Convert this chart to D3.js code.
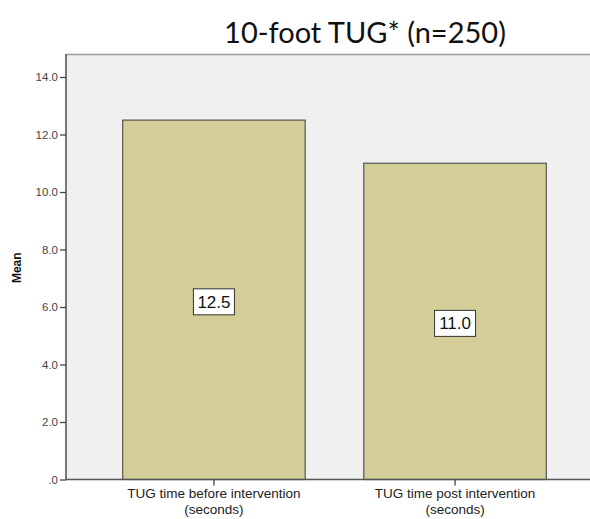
<!DOCTYPE html>
<html>
<head>
<meta charset="utf-8">
<script src="https://cdn.jsdelivr.net/npm/d3@7"></script>
<style>
  html, body { margin: 0; padding: 0; background: #fff; }
  svg { display: block; }
</style>
</head>
<body>
<svg id="chart" width="590" height="519"></svg>
<script>
const categories = [
  ["TUG time before intervention", "(seconds)"],
  ["TUG time post intervention", "(seconds)"]
];
const categoryKeys = ["before", "post"];
const meanValues = [12.5, 11.0];
const yTicks = [0, 2, 4, 6, 8, 10, 12, 14];
const titleText = "10-foot TUG* (n=250)";
const yAxisLabel = "Mean";

const svg = d3.select("#chart");
const W = 590, H = 519;
const plot = { left: 66, top: 54, right: 603, bottom: 479.5 };

const x = d3.scaleBand()
  .domain(categoryKeys)
  .range([plot.left, plot.right])
  .paddingInner(0.243)
  .paddingOuter(0.235);

const y = d3.scaleLinear()
  .domain([0, 14.8])
  .range([plot.bottom, plot.top]);

// Plot background
svg.append("rect")
  .attr("x", plot.left).attr("y", plot.top)
  .attr("width", plot.right - plot.left)
  .attr("height", plot.bottom - plot.top)
  .attr("fill", "#f0f0f0");

// Top frame line
svg.append("line")
  .attr("x1", plot.left).attr("x2", plot.right)
  .attr("y1", plot.top + 0.5).attr("y2", plot.top + 0.5)
  .attr("stroke", "#9a9a9a").attr("stroke-width", 1.5);

// Bars
svg.selectAll("rect.bar")
  .data(meanValues)
  .join("rect")
  .attr("class", "bar")
  .attr("x", (d, i) => x(categoryKeys[i]))
  .attr("y", d => y(d))
  .attr("width", x.bandwidth())
  .attr("height", d => y(0) - y(d))
  .attr("fill", "#d3ce98")
  .attr("stroke", "#555")
  .attr("stroke-width", 1.2);

// Y axis
const yAxis = d3.axisLeft(y)
  .tickValues(yTicks)
  .tickSize(6)
  .tickFormat(d => d === 0 ? ".0" : d3.format(".1f")(d));
const gy = svg.append("g")
  .attr("transform", `translate(${plot.left},0)`)
  .call(yAxis);
gy.select(".domain").attr("stroke", "#777").attr("stroke-width", 2)
  .attr("d", `M0,${plot.top}V${plot.bottom}`);
gy.selectAll(".tick line").attr("stroke", "#444").attr("stroke-width", 1.3);
gy.selectAll(".tick text")
  .attr("font-family", "Arial, 'Liberation Sans', sans-serif")
  .attr("font-size", 11.5)
  .attr("fill", "#444")
  .attr("x", -8);

// X axis
const xAxis = d3.axisBottom(x).tickSize(6).tickFormat("");
const gx = svg.append("g")
  .attr("transform", `translate(0,${plot.bottom})`)
  .call(xAxis);
gx.select(".domain").attr("stroke", "#555").attr("stroke-width", 1.5)
  .attr("d", `M${plot.left},0H${plot.right}`);
gx.selectAll(".tick line").attr("stroke", "#444").attr("stroke-width", 1.3);

// Category labels
categoryKeys.forEach((k, i) => {
  const t = svg.append("text")
    .attr("x", x(k) + x.bandwidth() / 2)
    .attr("y", 498)
    .attr("text-anchor", "middle")
    .attr("font-family", "Arial, 'Liberation Sans', sans-serif")
    .attr("font-size", 13.5)
    .attr("fill", "#222");
  categories[i].forEach((line, j) => {
    t.append("tspan")
      .attr("x", x(k) + x.bandwidth() / 2)
      .attr("dy", j === 0 ? 0 : 15.5)
      .text(line);
  });
});

// Value labels
meanValues.forEach((v, i) => {
  const cx = x(categoryKeys[i]) + x.bandwidth() / 2;
  const cy = (y(v) + y(0)) / 2 + 2;
  const g = svg.append("g");
  g.append("rect")
    .attr("x", cx - 20.5).attr("y", cy - 13)
    .attr("width", 41).attr("height", 26)
    .attr("fill", "#fff").attr("stroke", "#333").attr("stroke-width", 1);
  g.append("text")
    .attr("x", cx).attr("y", cy + 6)
    .attr("text-anchor", "middle")
    .attr("font-family", "Arial, 'Liberation Sans', sans-serif")
    .attr("font-size", 17)
    .attr("fill", "#111")
    .text(d3.format(".1f")(v));
});

// Y axis title
svg.append("text")
  .attr("transform", `translate(21,${(plot.top + plot.bottom) / 2 + 1}) rotate(-90)`)
  .attr("text-anchor", "middle")
  .attr("font-family", "Arial, 'Liberation Sans', sans-serif")
  .attr("font-size", 12)
  .attr("font-weight", "bold")
  .attr("fill", "#111")
  .text(yAxisLabel);

// Chart title
svg.append("text")
  .attr("x", 365)
  .attr("y", 43)
  .attr("text-anchor", "middle")
  .attr("font-family", "Lato, 'DejaVu Sans', sans-serif")
  .attr("font-size", 29)
  .attr("fill", "#111")
  .text(titleText);
</script>
</body>
</html>
